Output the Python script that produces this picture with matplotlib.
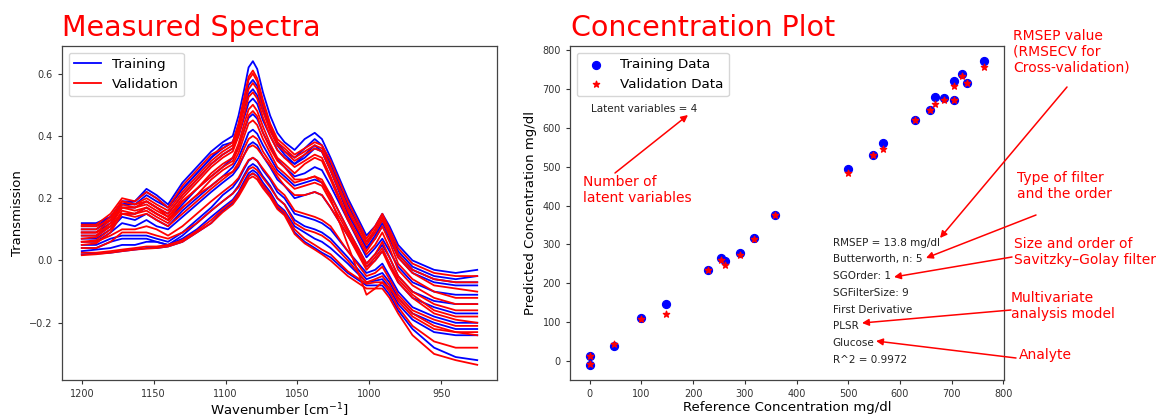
import numpy as np
import matplotlib
matplotlib.use('Agg')
import matplotlib.pyplot as plt

# ---- spectra ----
wavenumber = [1200, 1190, 1180, 1172, 1163, 1155, 1148, 1140, 1130, 1120, 1110, 1102,
              1095, 1091, 1087, 1084, 1081, 1078, 1074, 1069, 1064, 1059, 1052, 1045,
              1038, 1033, 1027, 1015, 1002, 996, 991, 986, 980, 970, 955, 940, 925]

training_spectra = [
    [0.11, 0.11, 0.14, 0.19, 0.19, 0.23, 0.21, 0.18, 0.25, 0.30, 0.35, 0.38,
     0.40, 0.465, 0.55, 0.62, 0.64, 0.615, 0.54, 0.465, 0.41, 0.38, 0.355, 0.39,
     0.41, 0.39, 0.33, 0.20, 0.08, 0.11, 0.15, 0.11, 0.05, 0.00, -0.03, -0.04, -0.03],
    [0.10, 0.10, 0.13, 0.18, 0.18, 0.21, 0.19, 0.17, 0.23, 0.28, 0.33, 0.36,
     0.38, 0.435, 0.51, 0.563, 0.58, 0.56, 0.495, 0.435, 0.38, 0.35, 0.33, 0.36,
     0.39, 0.37, 0.31, 0.18, 0.06, 0.09, 0.13, 0.09, 0.03, -0.02, -0.05, -0.06, -0.05],
    [0.09, 0.09, 0.12, 0.17, 0.17, 0.19, 0.17, 0.15, 0.21, 0.26, 0.31, 0.34,
     0.36, 0.40, 0.46, 0.506, 0.52, 0.503, 0.45, 0.40, 0.355, 0.33, 0.31, 0.33,
     0.36, 0.35, 0.29, 0.16, 0.04, 0.07, 0.11, 0.07, 0.01, -0.04, -0.07, -0.08, -0.08],
    [0.08, 0.08, 0.11, 0.15, 0.15, 0.17, 0.15, 0.13, 0.18, 0.23, 0.27, 0.30,
     0.33, 0.365, 0.42, 0.458, 0.47, 0.455, 0.41, 0.365, 0.325, 0.30, 0.27, 0.28,
     0.30, 0.29, 0.24, 0.13, 0.01, 0.04, 0.07, 0.03, -0.02, -0.07, -0.10, -0.11, -0.11],
    [0.07, 0.07, 0.10, 0.14, 0.13, 0.15, 0.13, 0.11, 0.16, 0.20, 0.24, 0.27,
     0.30, 0.33, 0.375, 0.41, 0.42, 0.407, 0.37, 0.33, 0.29, 0.27, 0.24, 0.25,
     0.26, 0.25, 0.21, 0.10, -0.01, 0.02, 0.05, 0.01, -0.05, -0.10, -0.13, -0.14, -0.14],
    [0.06, 0.06, 0.09, 0.12, 0.11, 0.13, 0.11, 0.10, 0.14, 0.18, 0.22, 0.25,
     0.275, 0.30, 0.34, 0.37, 0.38, 0.37, 0.335, 0.30, 0.26, 0.24, 0.20, 0.21,
     0.22, 0.21, 0.17, 0.08, -0.02, 0.00, 0.03, -0.01, -0.07, -0.12, -0.15, -0.17, -0.17],
    [0.05, 0.05, 0.07, 0.08, 0.08, 0.08, 0.07, 0.06, 0.09, 0.13, 0.17, 0.21,
     0.235, 0.26, 0.295, 0.32, 0.33, 0.32, 0.29, 0.26, 0.22, 0.20, 0.15, 0.14,
     0.13, 0.12, 0.10, 0.03, -0.04, -0.03, -0.01, -0.05, -0.10, -0.15, -0.18, -0.20, -0.20],
    [0.04, 0.04, 0.06, 0.07, 0.07, 0.07, 0.06, 0.05, 0.08, 0.12, 0.16, 0.19,
     0.215, 0.24, 0.275, 0.30, 0.31, 0.30, 0.27, 0.24, 0.20, 0.18, 0.13, 0.11,
     0.10, 0.09, 0.07, 0.01, -0.06, -0.05, -0.04, -0.07, -0.12, -0.17, -0.20, -0.22, -0.22],
    [0.03, 0.035, 0.04, 0.05, 0.05, 0.06, 0.06, 0.05, 0.07, 0.10, 0.14, 0.17,
     0.195, 0.22, 0.255, 0.28, 0.29, 0.28, 0.25, 0.22, 0.18, 0.16, 0.11, 0.09,
     0.07, 0.06, 0.04, -0.01, -0.07, -0.065, -0.06, -0.09, -0.14, -0.19, -0.23, -0.24, -0.24],
    [0.02, 0.022, 0.025, 0.03, 0.035, 0.04, 0.04, 0.045, 0.06, 0.09, 0.12, 0.16,
     0.185, 0.21, 0.245, 0.27, 0.28, 0.27, 0.24, 0.21, 0.17, 0.15, 0.09, 0.06,
     0.04, 0.025, 0.01, -0.04, -0.08, -0.08, -0.08, -0.11, -0.16, -0.22, -0.28, -0.31, -0.32],
    [0.12, 0.12, 0.14, 0.18, 0.19, 0.22, 0.20, 0.17, 0.23, 0.28, 0.33, 0.37,
     0.38, 0.425, 0.49, 0.535, 0.55, 0.53, 0.48, 0.425, 0.37, 0.34, 0.31, 0.34,
     0.37, 0.35, 0.29, 0.15, 0.04, 0.08, 0.12, 0.08, 0.02, -0.03, -0.06, -0.07, -0.07],
]

validation_spectra = [
    [0.115, 0.115, 0.15, 0.20, 0.19, 0.22, 0.20, 0.17, 0.24, 0.29, 0.34, 0.36,
     0.38, 0.44, 0.525, 0.59, 0.61, 0.585, 0.515, 0.44, 0.39, 0.37, 0.34, 0.36,
     0.38, 0.37, 0.32, 0.19, 0.07, 0.11, 0.15, 0.10, 0.04, -0.01, -0.04, -0.05, -0.05],
    [0.10, 0.10, 0.14, 0.19, 0.18, 0.20, 0.18, 0.16, 0.22, 0.27, 0.32, 0.35,
     0.37, 0.43, 0.515, 0.58, 0.60, 0.575, 0.505, 0.43, 0.38, 0.36, 0.33, 0.35,
     0.37, 0.36, 0.30, 0.17, 0.06, 0.10, 0.14, 0.09, 0.02, -0.03, -0.06, -0.07, -0.07],
    [0.09, 0.09, 0.13, 0.19, 0.18, 0.19, 0.17, 0.15, 0.21, 0.26, 0.31, 0.34,
     0.36, 0.415, 0.495, 0.55, 0.57, 0.55, 0.48, 0.415, 0.37, 0.35, 0.32, 0.34,
     0.36, 0.35, 0.29, 0.16, 0.05, 0.09, 0.13, 0.08, 0.01, -0.04, -0.08, -0.09, -0.10],
    [0.08, 0.08, 0.12, 0.18, 0.17, 0.18, 0.16, 0.14, 0.20, 0.25, 0.30, 0.33,
     0.35, 0.40, 0.47, 0.525, 0.54, 0.52, 0.46, 0.40, 0.355, 0.33, 0.30, 0.32,
     0.34, 0.33, 0.27, 0.14, 0.03, 0.07, 0.11, 0.06, -0.01, -0.06, -0.10, -0.12, -0.12],
    [0.07, 0.075, 0.11, 0.17, 0.16, 0.17, 0.15, 0.13, 0.19, 0.23, 0.28, 0.31,
     0.33, 0.375, 0.44, 0.485, 0.50, 0.48, 0.43, 0.375, 0.33, 0.31, 0.28, 0.31,
     0.33, 0.32, 0.26, 0.13, 0.02, 0.05, 0.09, 0.04, -0.03, -0.08, -0.12, -0.14, -0.14],
    [0.06, 0.065, 0.10, 0.16, 0.15, 0.16, 0.14, 0.12, 0.17, 0.21, 0.26, 0.29,
     0.31, 0.345, 0.40, 0.44, 0.45, 0.435, 0.39, 0.345, 0.30, 0.28, 0.25, 0.26,
     0.27, 0.26, 0.21, 0.10, -0.01, 0.02, 0.06, 0.01, -0.05, -0.10, -0.14, -0.16, -0.16],
    [0.05, 0.055, 0.09, 0.15, 0.14, 0.15, 0.13, 0.11, 0.15, 0.19, 0.23, 0.26,
     0.285, 0.315, 0.36, 0.39, 0.40, 0.39, 0.35, 0.315, 0.28, 0.26, 0.23, 0.24,
     0.25, 0.24, 0.19, 0.09, -0.02, 0.01, 0.04, -0.01, -0.06, -0.11, -0.16, -0.18, -0.18],
    [0.09, 0.09, 0.11, 0.15, 0.15, 0.17, 0.15, 0.13, 0.17, 0.21, 0.24, 0.27,
     0.285, 0.305, 0.34, 0.363, 0.37, 0.36, 0.335, 0.305, 0.27, 0.24, 0.21, 0.21,
     0.22, 0.21, 0.17, 0.08, -0.03, 0.00, 0.03, -0.02, -0.07, -0.12, -0.17, -0.19, -0.20],
    [0.06, 0.06, 0.08, 0.10, 0.10, 0.11, 0.10, 0.08, 0.11, 0.15, 0.19, 0.22,
     0.245, 0.265, 0.30, 0.323, 0.33, 0.32, 0.295, 0.265, 0.23, 0.21, 0.16, 0.15,
     0.14, 0.13, 0.11, 0.03, -0.05, -0.04, -0.02, -0.06, -0.11, -0.16, -0.19, -0.21, -0.21],
    [0.04, 0.04, 0.06, 0.09, 0.09, 0.09, 0.08, 0.07, 0.09, 0.12, 0.16, 0.19,
     0.215, 0.235, 0.27, 0.293, 0.30, 0.29, 0.265, 0.235, 0.20, 0.18, 0.12, 0.10,
     0.09, 0.08, 0.06, 0.00, -0.07, -0.06, -0.05, -0.08, -0.13, -0.18, -0.22, -0.23, -0.23],
    [0.025, 0.025, 0.03, 0.035, 0.04, 0.045, 0.045, 0.05, 0.065, 0.095, 0.13, 0.165,
     0.19, 0.215, 0.247, 0.272, 0.28, 0.27, 0.242, 0.213, 0.175, 0.155, 0.10, 0.07,
     0.05, 0.035, 0.02, -0.035, -0.075, -0.07, -0.07, -0.10, -0.15, -0.21, -0.26, -0.28, -0.28],
    [0.017, 0.02, 0.025, 0.03, 0.035, 0.038, 0.04, 0.045, 0.06, 0.09, 0.12, 0.155,
     0.18, 0.205, 0.237, 0.262, 0.27, 0.26, 0.232, 0.203, 0.165, 0.145, 0.085, 0.055,
     0.035, 0.02, 0.0, -0.05, -0.09, -0.09, -0.09, -0.12, -0.17, -0.24, -0.30, -0.32, -0.335],
    [0.11, 0.11, 0.13, 0.17, 0.17, 0.19, 0.17, 0.14, 0.19, 0.23, 0.27, 0.30,
     0.32, 0.36, 0.42, 0.466, 0.48, 0.463, 0.41, 0.36, 0.32, 0.30, 0.26, 0.26,
     0.27, 0.25, 0.20, 0.05, -0.11, -0.09, -0.07, -0.09, -0.12, -0.17, -0.21, -0.23, -0.24],
]

# ---- concentration prediction ----
ref_conc = [0, 0, 47, 99, 148, 228, 254, 262, 290, 317, 358,
            500, 547, 568, 630, 658, 668, 686, 705, 705, 720, 729, 763]
train_pred = [13, -10, 39, 111, 147, 234, 264, 258, 279, 316, 375,
              495, 530, 561, 620, 647, 680, 676, 720, 671, 738, 715, 772]
val_pred = [13, -8, 44, 109, 120, 235, 259, 246, 274, 315, 376,
            483, 530, 547, 620, 645, 662, 672, 708, 671, 733, 715, 757]

latent_vars = 4
info_lines = ["RMSEP = 13.8 mg/dl", "Butterworth, n: 5", "SGOrder: 1", "SGFilterSize: 9",
              "First Derivative", "PLSR", "Glucose", "R^2 = 0.9972"]

# callouts: text, text top-left (px), arrow tail (px), arrow head (px)
callouts = [
    ("Number of\nlatent variables", (583, 175), (615, 173), (688, 115)),
    ("RMSEP value\n(RMSECV for\nCross-validation)", (1013, 29), (1067, 87), (940, 238)),
    ("Type of filter\nand the order", (1017, 171), (1036, 215), (926, 258)),
    ("Size and order of\nSavitzky\u2013Golay filter", (1014, 237), (1012, 257), (894, 277)),
    ("Multivariate\nanalysis model", (1011, 291), (1011, 310), (862, 323)),
    ("Analyte", (1019, 348), (1016, 358), (876, 341)),
]

W, H = 1159, 417


def fig_xy(p):
    return p[0] / W, 1 - p[1] / H


fig = plt.figure(figsize=(W / 100, H / 100), dpi=100)
ax1 = fig.add_axes([62 / W, 1 - 380 / H, 435 / W, 334 / H])
ax2 = fig.add_axes([570 / W, 1 - 380 / H, 434 / W, 334 / H])

for i, s in enumerate(training_spectra):
    ax1.plot(wavenumber, s, color='blue', lw=1.3, solid_joinstyle='round',
             label='Training' if i == 0 else None)
for i, s in enumerate(validation_spectra):
    ax1.plot(wavenumber, s, color='red', lw=1.3, solid_joinstyle='round',
             label='Validation' if i == 0 else None)
ax1.invert_xaxis()
ax1.set_xlabel('Wavenumber [cm$^{-1}$]', fontsize=9.5, labelpad=1.5)
ax1.set_ylabel('Transmission', fontsize=9.5)
ax1.legend(loc='upper left', fontsize=9.7)

ax2.scatter(ref_conc, train_pred, s=32, color='blue', marker='o', label='Training Data')
ax2.scatter(ref_conc, val_pred, s=22, color='red', marker='*', label='Validation Data')
ax2.set_xlabel('Reference Concentration mg/dl', fontsize=9.5, labelpad=1.5)
ax2.set_ylabel('Predicted Concentration mg/dl', fontsize=9.5)
ax2.legend(loc='upper left', fontsize=9.7)
ax2.text(3, 648, 'Latent variables = %d' % latent_vars, fontsize=7.5, va='center', color='#222222')
for i, line in enumerate(info_lines):
    ax2.text(470, 305 - 43.2 * i, line, fontsize=7.5, va='center', color='#222222')

for ax in (ax1, ax2):
    ax.tick_params(labelsize=7, length=3, width=0.8, colors='#333333')
    for sp in ax.spines.values():
        sp.set_color('#444444')
        sp.set_linewidth(0.9)

fig.text(62 / W, 1 - 36 / H, 'Measured Spectra', color='red', fontsize=20.5, va='baseline')
fig.text(571 / W, 1 - 36 / H, 'Concentration Plot', color='red', fontsize=20.5, va='baseline')

for txt, tpos, tail, head in callouts:
    fig.text(*fig_xy(tpos), txt, color='red', fontsize=10, va='top', ha='left', linespacing=1.15)
    ax2.annotate('', xy=fig_xy(head), xytext=fig_xy(tail), xycoords='figure fraction',
                 textcoords='figure fraction', annotation_clip=False,
                 arrowprops=dict(arrowstyle='-|>', color='red', lw=1.1, mutation_scale=10,
                                 shrinkA=0, shrinkB=0))

fig.savefig('out.png', dpi=100)
